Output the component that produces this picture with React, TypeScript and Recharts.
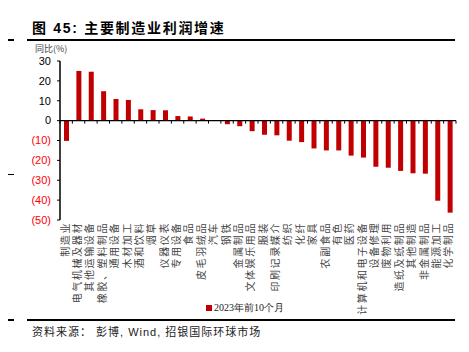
import {Bar, BarChart, Cell, ReferenceLine, XAxis, YAxis} from 'recharts';

const categories = [
    '制造业', '电气机械及器材', '其他运输设备', '橡胶、塑料制品', '通用设备', '木材加工', '酒和饮料', '烟草',
    '仪器仪表', '专用设备', '食品', '皮毛羽绒品', '汽车', '钢铁', '金属制品', '文体娱乐用品',
    '服装', '印刷记录媒介', '纺织', '化纤', '家具', '农副食品', '有色', '医药',
    '计算机和电子设备', '设备修理', '废物利用', '造纸及纸制品', '其他制造', '非金属制品', '能源加工', '化学制品',
];
const values = [
    -10.2, 25.0, 24.6, 14.8, 10.9, 10.4, 5.7, 5.3,
    5.2, 2.3, 2.1, 1.0, 0.1, -1.8, -2.8, -5.3,
    -7.1, -7.4, -10.1, -10.8, -14.0, -15.0, -15.0, -17.6,
    -18.6, -23.2, -23.7, -25.3, -26.5, -26.7, -40.3, -46.3,
];
const yTicks = [30, 20, 10, 0, -10, -20, -30, -40, -50];
const seriesName = '2023年前10个月';

const data = categories.map((name, i) => ({name, value: values[i]}));

const W = 469;
const H = 352;
const M = {top: 61, right: 13, bottom: 32, left: 0};
const Y_W = 60;
const X_H = 100;
const RED = '#c00000';
const CJK = '"Noto Sans CJK SC", sans-serif';

const plotH = H - M.top - M.bottom - X_H;
const zeroY = M.top + plotH * 30 / 80;
const band = (W - M.left - M.right - Y_W) / categories.length;

function XTick({x, y, payload, index}: any) {
    const left = x - band / 2;
    return (
        <g>
            <line x1={left} x2={left} y1={zeroY} y2={zeroY + 3} stroke="#000"/>
            {index === categories.length - 1 &&
                <line x1={x + band / 2} x2={x + band / 2} y1={zeroY} y2={zeroY + 3} stroke="#000"/>}
            <text transform={`translate(${x - 1},${y + 2}) rotate(-90)`} textAnchor="end" dy="0.35em"
                  fontSize={10} letterSpacing={1.6} fill="#444" fontFamily={CJK}>
                {payload.value}
            </text>
        </g>
    );
}

function YTick({x, y, payload}: any) {
    const v = payload.value;
    return (
        <text x={x} y={y} dy="0.35em" textAnchor="end" fontSize={11}
              fontFamily='"Liberation Sans", Arial, sans-serif' fill={v < 0 ? '#ff0000' : '#000'}>
            {v < 0 ? `(${Math.abs(v)})` : v}
        </text>
    );
}

export default function App() {
    return (
        <div style={{position: 'relative', width: W, height: H, margin: -8, background: '#fff', overflow: 'hidden'}}>
            <div style={{
                position: 'absolute', left: 32, top: 17, fontSize: 14, fontWeight: 'bold', letterSpacing: 1.7,
                fontFamily: `"Liberation Sans", ${CJK}`, color: '#000', whiteSpace: 'nowrap'
            }}>
                图 45: 主要制造业利润增速
            </div>
            <div style={{position: 'absolute', left: 27, top: 39, width: 428, height: 2, background: '#000'}}/>
            <div style={{position: 'absolute', left: 0, top: 39, width: 14, height: 2, background: '#000'}}/>
            <div style={{position: 'absolute', left: 35, top: 42, fontSize: 9, color: '#444', fontFamily: CJK}}>
                同比(%)
            </div>

            <div style={{position: 'absolute', left: 0, top: 113, width: 3, height: 3, background: '#f5a623'}}/>
            <div style={{position: 'absolute', left: 0, top: 139, width: 3, height: 3, background: '#d0021b'}}/>
            <div style={{position: 'absolute', left: 0, top: 155, width: 3, height: 3, background: '#f8c98a'}}/>
            <div style={{position: 'absolute', left: 0, top: 174, width: 14, height: 1, background: '#000'}}/>

            <div style={{position: 'absolute', left: 0, top: 0}}>
                <BarChart width={W} height={H} data={data} margin={M}>
                    <XAxis dataKey="name" interval={0} axisLine={false} tickLine={false} tickSize={0}
                           tickMargin={0} height={X_H} tick={<XTick/>}/>
                    <YAxis domain={[-50, 30]} ticks={yTicks} width={Y_W} tickSize={3} tickMargin={6}
                           axisLine={{stroke: '#000', strokeWidth: 1.5}} tickLine={{stroke: '#000'}}
                           tick={<YTick/>} interval={0}/>
                    <Bar dataKey="value" name={seriesName} barSize={5} isAnimationActive={false}>
                        {data.map((d, i) => <Cell key={i} fill={RED}/>)}
                    </Bar>
                    <ReferenceLine y={0} stroke="#000" strokeWidth={1.2}/>
                </BarChart>
            </div>

            <div style={{
                position: 'absolute', left: 206, top: 301, display: 'flex', alignItems: 'center',
                fontFamily: '"Liberation Serif", serif', fontSize: 10, color: '#222', whiteSpace: 'nowrap'
            }}>
                <span style={{width: 6, height: 6, background: RED, marginRight: 2, display: 'inline-block'}}/>
                {seriesName}
            </div>

            <div style={{position: 'absolute', left: 27, top: 319, width: 428, height: 2, background: '#000'}}/>
            <div style={{position: 'absolute', left: 0, top: 319, width: 14, height: 2, background: '#000'}}/>
            <div style={{
                position: 'absolute', left: 32, top: 323, fontSize: 11, letterSpacing: 1, color: '#222',
                fontFamily: `"Liberation Sans", ${CJK}`, whiteSpace: 'nowrap'
            }}>
                资料来源： 彭博, Wind, 招银国际环球市场
            </div>
        </div>
    );
}
